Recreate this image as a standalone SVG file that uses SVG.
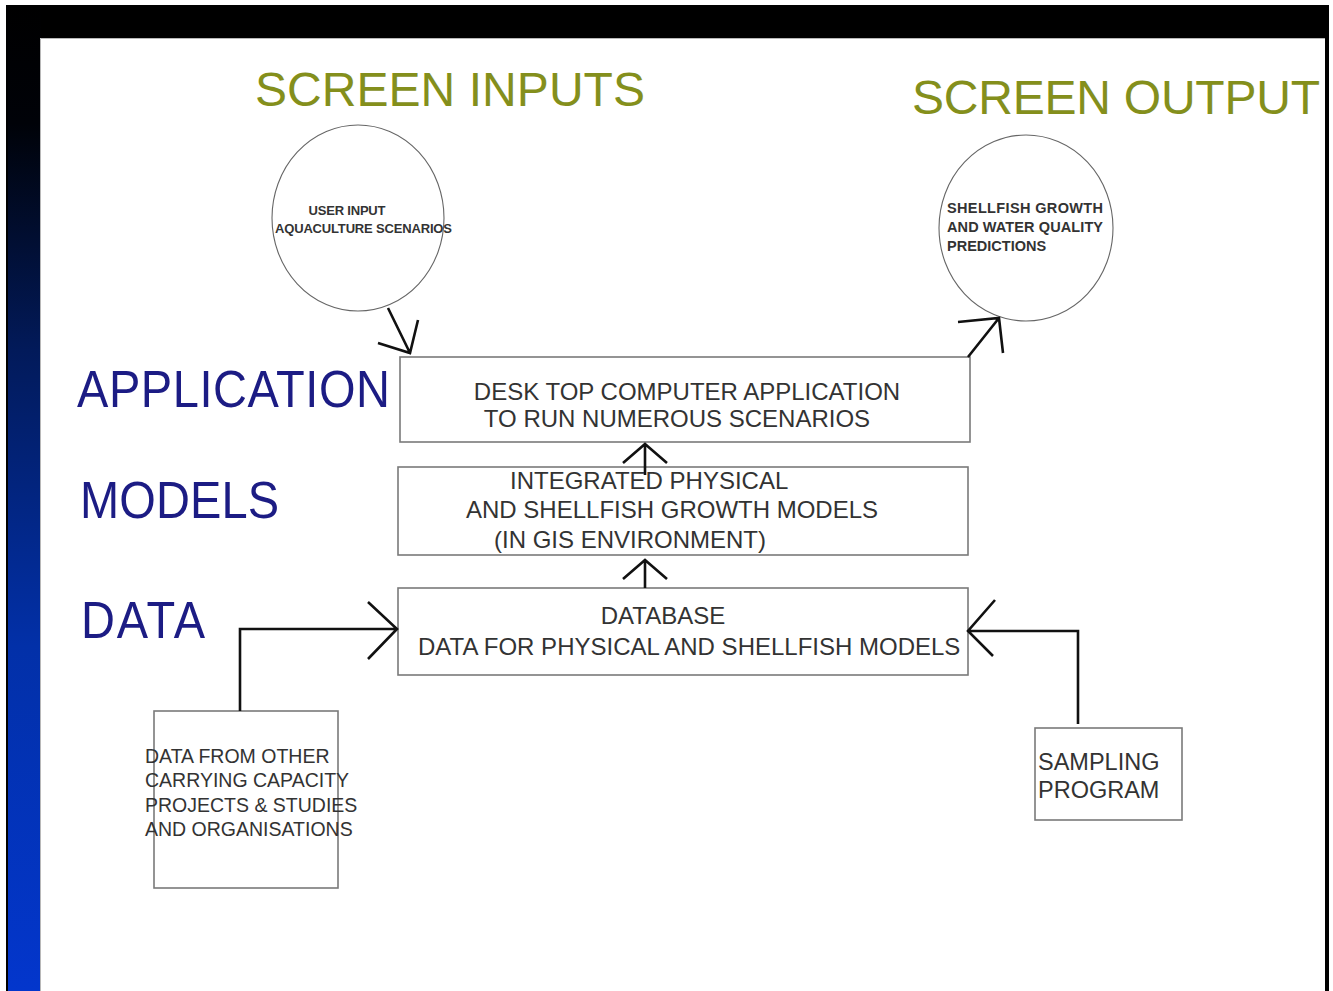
<svg xmlns="http://www.w3.org/2000/svg" width="1333" height="991" viewBox="0 0 1333 991">
<defs>
<linearGradient id="side" x1="0" y1="0" x2="0" y2="1">
<stop offset="0" stop-color="#000000"/>
<stop offset="0.12" stop-color="#000208"/>
<stop offset="0.35" stop-color="#021a5a"/>
<stop offset="0.65" stop-color="#0230a8"/>
<stop offset="1" stop-color="#0336cc"/>
</linearGradient>
<style>
.title{font-family:"Liberation Sans",Arial,sans-serif;font-size:48px;fill:#848f1c}
.layer{font-family:"Liberation Sans",Arial,sans-serif;font-size:47px;fill:#1c1c84}
.box{fill:#ffffff;stroke:#7a7a7a;stroke-width:1.6}
.circ{fill:#ffffff;stroke:#666666;stroke-width:1.1}
.bt{font-family:"Liberation Sans",Arial,sans-serif;font-size:24px;fill:#333333}
.sp{font-family:"Liberation Sans",Arial,sans-serif;font-size:23.5px;fill:#333333}
.st{font-family:"Liberation Sans",Arial,sans-serif;font-size:19.5px;fill:#333333}
.ct{font-family:"Liberation Sans",Arial,sans-serif;font-weight:bold;fill:#333333}
.conn{fill:none;stroke:#111111;stroke-width:2.6;stroke-linejoin:miter}
</style>
</defs>
<rect x="0" y="0" width="1333" height="991" fill="#ffffff"/>
<rect x="6" y="5" width="1323" height="34" fill="#000000"/>
<rect x="6" y="5" width="35" height="986" fill="url(#side)"/>
<rect x="6" y="5" width="2" height="986" fill="#000000"/>
<rect x="1325" y="38" width="4" height="953" fill="#000000"/>
<rect x="40" y="38" width="1285" height="953" fill="#ffffff"/>
<path d="M40.5 991 V38.5 H1325" fill="none" stroke="#b8b8b8" stroke-width="1"/>

<g id="titles">
<text class="title" x="255" y="106" textLength="390">SCREEN INPUTS</text>
<text class="title" x="912" y="114" textLength="408">SCREEN OUTPUT</text>
</g>
<g id="layer-labels">
<text class="layer" transform="translate(77,407) scale(1,1.09)" textLength="313">APPLICATION</text>
<text class="layer" transform="translate(80,518) scale(1,1.09)" textLength="199">MODELS</text>
<text class="layer" transform="translate(81,638) scale(1,1.09)" textLength="124">DATA</text>
</g>

<g id="user-input">
<ellipse class="circ" cx="358" cy="218" rx="86" ry="93"/>
<text class="ct" font-size="13" x="347" y="215" text-anchor="middle" textLength="77">USER INPUT</text>
<text class="ct" font-size="13" x="275" y="233" textLength="177">AQUACULTURE SCENARIOS</text>
</g>

<g id="shellfish-output">
<ellipse class="circ" cx="1026" cy="228" rx="87" ry="93"/>
<text class="ct" font-size="14.5" x="947" y="213" textLength="156">SHELLFISH GROWTH</text>
<text class="ct" font-size="14.5" x="947" y="232" textLength="156">AND WATER QUALITY</text>
<text class="ct" font-size="14.5" x="947" y="251">PREDICTIONS</text>
</g>

<g id="application">
<rect class="box" x="400" y="357" width="570" height="85"/>
<text class="bt" x="687" y="400" text-anchor="middle">DESK TOP COMPUTER APPLICATION</text>
<text class="bt" x="677" y="427" text-anchor="middle">TO RUN NUMEROUS SCENARIOS</text>
</g>

<g id="models">
<rect class="box" x="398" y="467" width="570" height="88"/>
<text class="bt" x="510" y="489">INTEGRATED PHYSICAL</text>
<text class="bt" x="466" y="518">AND SHELLFISH GROWTH MODELS</text>
<text class="bt" x="494" y="548">(IN GIS ENVIRONMENT)</text>
</g>

<g id="database">
<rect class="box" x="398" y="588" width="570" height="87"/>
<text class="bt" x="663" y="624" text-anchor="middle">DATABASE</text>
<text class="bt" x="418" y="655">DATA FOR PHYSICAL AND SHELLFISH MODELS</text>
</g>

<g id="other-data">
<rect class="box" x="154" y="711" width="184" height="177"/>
<text class="st" x="145" y="763">DATA FROM OTHER</text>
<text class="st" x="145" y="787">CARRYING CAPACITY</text>
<text class="st" x="145" y="812">PROJECTS &amp; STUDIES</text>
<text class="st" x="145" y="836">AND ORGANISATIONS</text>
</g>

<g id="sampling">
<rect class="box" x="1035" y="728" width="147" height="92"/>
<text class="sp" x="1038" y="770">SAMPLING</text>
<text class="sp" x="1038" y="798">PROGRAM</text>
</g>

<g id="connectors">
<path class="conn" d="M388 308 L410 353 M378 343 L410 353 L418 320"/>
<path class="conn" d="M968 357 L999 318 M958 322 L999 318 L1003 353"/>
<path class="conn" d="M645 475 V444 M623 463 L645 444 L667 463"/>
<path class="conn" d="M645 588 V560 M623 579 L645 560 L667 579"/>
<path class="conn" d="M240 711 V629 H397 M368 602 L397 629 L368 659"/>
<path class="conn" d="M1078 724 V631 H968 M995 600 L968 631 L993 656"/>
</g>
</svg>
